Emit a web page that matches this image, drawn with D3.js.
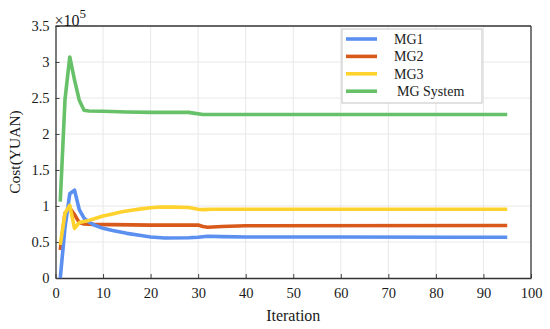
<!DOCTYPE html>
<html>
<head>
<meta charset="utf-8">
<script src="https://cdn.jsdelivr.net/npm/d3@7"></script>
<style>
  body { margin: 0; background: #fff; }
  svg text { font-family: "Liberation Serif", "DejaVu Serif", serif; }
</style>
</head>
<body>
<script>
// data (cost in yuan)
const seriesNames = ["MG1", "MG2", "MG3", "MG System"]
const colors = ["#5b8ff0", "#d9591a", "#ffd22e", "#66c168"]

const mg1Iter = [1, 2, 3, 4, 5, 6, 7, 8, 10, 12, 15, 18, 20, 23, 28, 30, 32, 35, 40, 60, 84, 95]
const mg1Cost = [0, 70000, 117000, 122000, 95000, 83000, 78000, 74000, 69000, 66000, 62000, 59000, 57000, 55500, 56000, 56500, 58000, 57500, 57000, 57000, 56500, 56500]

const mg2Iter = [1, 2, 3, 4, 5, 6, 8, 20, 30, 31, 32, 35, 40, 95]
const mg2Cost = [39000, 90000, 97000, 88000, 77000, 75000, 74500, 73500, 73500, 71500, 70500, 71500, 72500, 73000]

const mg3Iter = [1, 2, 3, 4, 5, 6, 7, 8, 10, 12, 14, 16, 18, 20, 22, 25, 28, 30, 31, 33, 95]
const mg3Cost = [46000, 90000, 101000, 69000, 77000, 78500, 80000, 82000, 86000, 89000, 92000, 94000, 96000, 97500, 98500, 98500, 98000, 95500, 95000, 95500, 95500]

const sysIter = [1, 2, 3, 4, 5, 6, 7, 10, 15, 20, 25, 28, 29, 31, 32, 40, 95]
const sysCost = [106000, 248000, 307000, 275000, 247000, 233000, 232000, 231500, 230500, 230000, 230000, 230000, 229000, 227000, 227000, 227000, 227000]

const xTicks = [0, 10, 20, 30, 40, 50, 60, 70, 80, 90, 100]
const yTicks = [0, 50000, 100000, 150000, 200000, 250000, 300000, 350000]

const svgWidth = 550, svgHeight = 329
const margin = {top: 26, right: 19, bottom: 51, left: 55.5}
const gWidth = svgWidth - margin.left - margin.right
const gHeight = svgHeight - margin.top - margin.bottom
const serif = "'Liberation Serif', 'DejaVu Serif', serif"

const series = [
  {name: seriesNames[0], xs: mg1Iter, ys: mg1Cost},
  {name: seriesNames[1], xs: mg2Iter, ys: mg2Cost},
  {name: seriesNames[2], xs: mg3Iter, ys: mg3Cost},
  {name: seriesNames[3], xs: sysIter, ys: sysCost}
]

const svg = d3.select("body").append("svg")
  .attr("width", svgWidth)
  .attr("height", svgHeight)
  .attr("font-family", serif)

const g = svg.append("g")
  .attr("transform", "translate(" + margin.left + "," + margin.top + ")")

const x = d3.scaleLinear().domain([0, 100]).range([0, gWidth])
const y = d3.scaleLinear().domain([0, 350000]).range([gHeight, 0])

// grid
g.append("g").selectAll("line.vg")
  .data(xTicks.slice(1, -1))
  .enter().append("line")
  .attr("x1", d => x(d)).attr("x2", d => x(d))
  .attr("y1", 0).attr("y2", gHeight)
  .attr("stroke", "#e8e8e8").attr("stroke-width", 1)
g.append("g").selectAll("line.hg")
  .data(yTicks.slice(1, -1))
  .enter().append("line")
  .attr("x1", 0).attr("x2", gWidth)
  .attr("y1", d => y(d)).attr("y2", d => y(d))
  .attr("stroke", "#e8e8e8").attr("stroke-width", 1)

// axes, ticks pointing inward
const xAxis = d3.axisBottom(x).tickValues(xTicks).tickSizeInner(-4).tickSizeOuter(0).tickPadding(10)
const yAxis = d3.axisLeft(y).tickValues(yTicks).tickSizeInner(-4).tickSizeOuter(0).tickPadding(6)
  .tickFormat(d => d3.format("~g")(d / 1e5))

const gx = g.append("g")
  .attr("transform", "translate(0," + gHeight + ")")
  .call(xAxis)
const gy = g.append("g").call(yAxis)

;[gx, gy].forEach(a => {
  a.attr("font-family", serif).attr("font-size", 14.5)
  a.selectAll("text").attr("fill", "#1a1a1a")
  a.selectAll("line").attr("stroke", "#444")
  a.select(".domain").attr("stroke", "#333").attr("stroke-width", 1.3)
})

// box top and right
g.append("line").attr("x1", 0).attr("x2", gWidth).attr("y1", 0).attr("y2", 0)
  .attr("stroke", "#333").attr("stroke-width", 1.3)
g.append("line").attr("x1", gWidth).attr("x2", gWidth).attr("y1", 0).attr("y2", gHeight)
  .attr("stroke", "#333").attr("stroke-width", 1.3)

// lines
const line = d3.line()
  .x(d => x(d[0]))
  .y(d => y(d[1]))

// draw MG System first, then MG2, MG1, MG3 on top
const order = [3, 1, 0, 2]
order.forEach(i => {
  const s = series[i]
  g.append("path")
    .datum(s.xs.map((v, k) => [v, s.ys[k]]))
    .attr("fill", "none")
    .attr("stroke", colors[i])
    .attr("stroke-width", 3.6)
    .attr("stroke-linejoin", "round")
    .attr("d", line)
})

// x10^5 label
const expo = svg.append("text")
  .attr("x", margin.left - 1)
  .attr("y", 26)
  .style("font-size", "16px")
  .attr("fill", "#1a1a1a")
expo.append("tspan").text("\u00d710")
expo.append("tspan").attr("dy", -8).style("font-size", "13px").text("5")

// axis titles
svg.append("text")
  .attr("x", margin.left + gWidth / 2)
  .attr("y", 321)
  .attr("text-anchor", "middle")
  .style("font-size", "16px")
  .attr("fill", "#1a1a1a")
  .text("Iteration")

svg.append("text")
  .attr("transform", "translate(20," + (margin.top + gHeight / 2) + ") rotate(-90)")
  .attr("text-anchor", "middle")
  .style("font-size", "15.5px")
  .attr("fill", "#1a1a1a")
  .text("Cost(YUAN)")

// legend
const legend = svg.append("g").attr("transform", "translate(342,29)")
legend.append("rect")
  .attr("width", 140).attr("height", 74)
  .attr("fill", "#fff").attr("stroke", "#c4c4c4").attr("stroke-width", 1)

const items = legend.selectAll("g.item")
  .data(seriesNames)
  .enter().append("g")
  .attr("transform", (d, i) => "translate(0," + (10 + i * 17.4) + ")")
items.append("line")
  .attr("x1", 4).attr("x2", 35)
  .attr("y1", 0).attr("y2", 0)
  .attr("stroke", (d, i) => colors[i])
  .attr("stroke-width", 3.6)
items.append("text")
  .attr("x", (d, i) => i === 3 ? 55 : 52)
  .attr("y", 5)
  .style("font-size", "14px")
  .attr("fill", "#1a1a1a")
  .text(d => d)
</script>
</body>
</html>
